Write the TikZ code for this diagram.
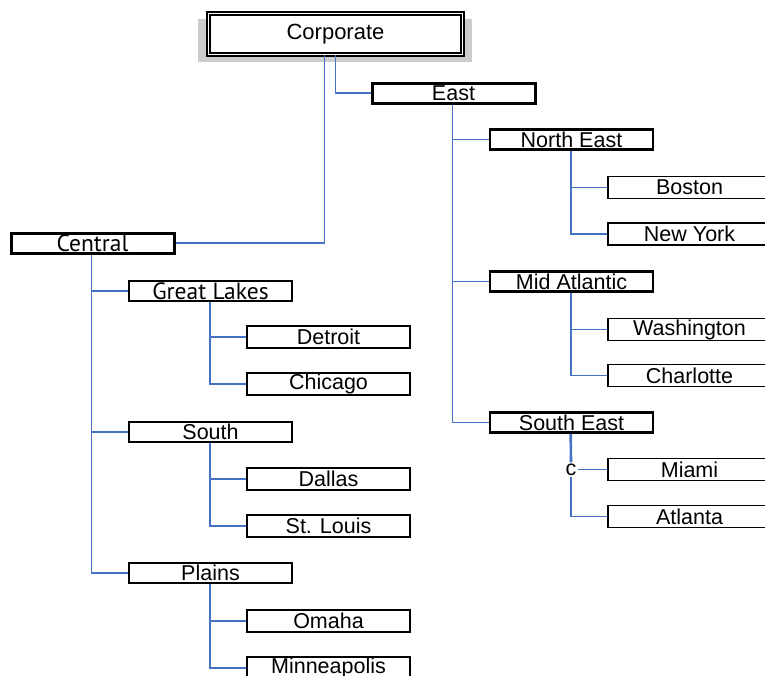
\documentclass[tikz,border=0pt]{standalone}
\usepackage{fontspec}
\setmainfont{Liberation Sans}
\newfontfamily\humanist{PT Sans}
\usetikzlibrary{positioning, backgrounds}
\definecolor{linkblue}{RGB}{68,114,196}
\tikzset{
  box/.style={draw=black, fill=white, inner sep=0pt, minimum width=163pt,
    minimum height=20pt, font=\fontsize{21.5}{21.5}\selectfont},
  topbox/.style={box, line width=3pt},
  midbox/.style={box, line width=2.6pt},
  leafbox/.style={box, line width=1.6pt, minimum height=22pt},
  wide/.style={font=\humanist\fontsize{23.5}{23.5}\selectfont},
  link/.style={draw=linkblue, line width=1.8pt},
}

\begin{document}
\begin{tikzpicture}[x=1pt, y=-1pt]
    \useasboundingbox (0,0) rectangle (765,675);

    % Root
    \node[box, line width=1.5pt, double, double distance=1.6pt,
          minimum width=254pt, minimum height=41pt,
          font=\fontsize{22}{22}\selectfont] (corp) at (335.5,34) {Corporate};
    \begin{scope}[on background layer]
        \fill[gray!40] ([shift={(-10pt,-6pt)}]corp.north west)
            rectangle ([shift={(9pt,-7pt)}]corp.south east);
    \end{scope}

    % Regions
    \node[topbox] (east) at (453.5,93) {East};
    \node[topbox, wide] (central) at (92.5,243) {Central};

    % Districts
    \node[midbox, wide] (greatlakes) at (210.5,291) {Great Lakes};
    \node[midbox] (south) at (210.5,432) {South};
    \node[midbox] (plains) at (210.5,573) {Plains};
    \node[midbox] (northeast) at (571.5,139.5) {North East};
    \node[midbox] (midatlantic) at (571.5,281.5) {Mid Atlantic};
    \node[midbox] (southeast) at (571.5,422.5) {South East};

    % Cities
    \node[leafbox] (detroit) at (328.5,337) {Detroit};
    \node[leafbox] (chicago) at (328.5,384) {Chicago};
    \node[leafbox] (dallas) at (328.5,479) {Dallas};
    \node[leafbox] (stlouis) at (328.5,526) {St. Louis};
    \node[leafbox] (omaha) at (328.5,621) {Omaha};
    \node[leafbox] (minneapolis) at (328.5,668) {Minneapolis};
    \node[leafbox] (boston) at (689.5,187.5) {Boston};
    \node[leafbox] (newyork) at (689.5,234) {New York};
    \node[leafbox] (washington) at (689.5,329.5) {Washington};
    \node[leafbox] (charlotte) at (689.5,375.5) {Charlotte};
    \node[leafbox] (miami) at (689.5,469.5) {Miami};
    \node[leafbox] (atlanta) at (689.5,516.5) {Atlanta};

    % stray mark on the South East line
    \node[inner sep=1pt, font=\fontsize{21.5}{21.5}\selectfont] (cmark) at (571,469.5) {c};

    % Links
    \draw[link] ([xshift=-11pt]corp.south) |- (central.east);
    \draw[link] (corp.south) |- (east.west);
    \foreach \parent/\child in {central/greatlakes, central/south, central/plains,
        greatlakes/detroit, greatlakes/chicago, south/dallas, south/stlouis,
        plains/omaha, plains/minneapolis,
        east/northeast, east/midatlantic, east/southeast,
        northeast/boston, northeast/newyork, midatlantic/washington, midatlantic/charlotte}
        \draw[link] ([xshift=82pt]\parent.south west) |- (\child.west);
    \draw[link, line width=2.6pt] ([xshift=82pt]southeast.south west) -- (cmark.north);
    \draw[link] (cmark.east) -- (miami.west);
    \draw[link] (cmark.south) |- (atlanta.west);
\end{tikzpicture}
\end{document}
